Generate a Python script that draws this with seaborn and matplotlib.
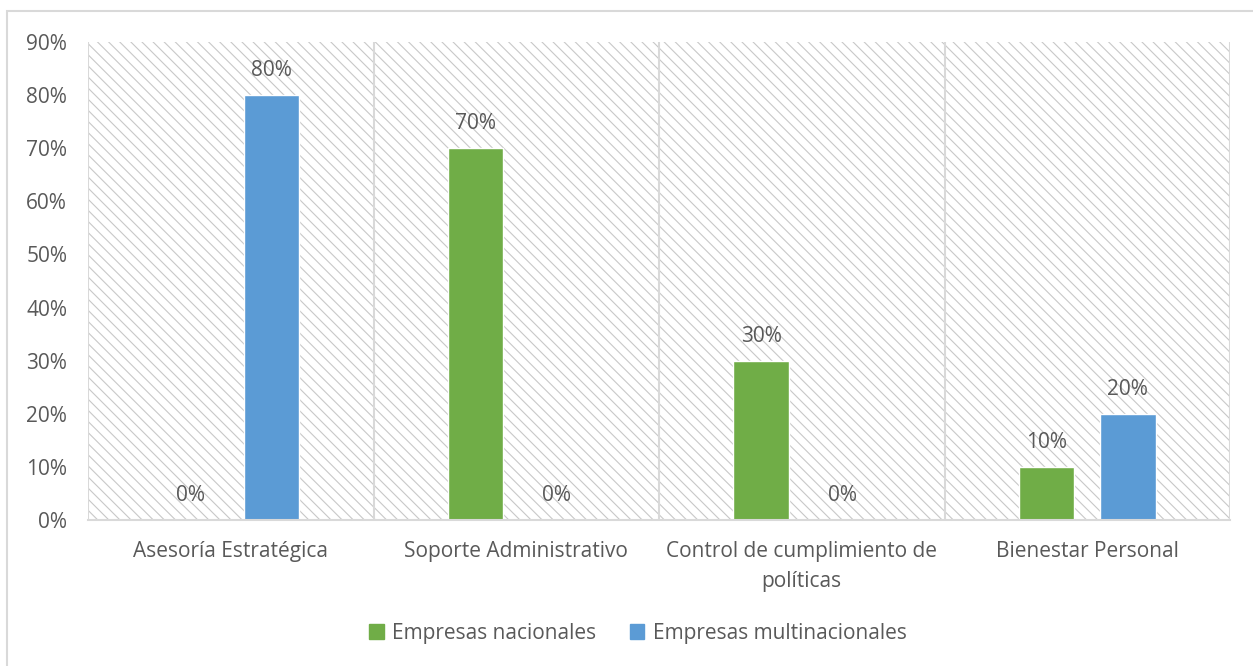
import matplotlib
matplotlib.use("Agg")
import matplotlib.pyplot as plt
from matplotlib.patches import Rectangle
from matplotlib.ticker import FuncFormatter
import seaborn as sns
import pandas as pd

# Data
categorias = ["Asesoría Estratégica", "Soporte Administrativo",
              "Control de cumplimiento de\npolíticas", "Bienestar Personal"]
series = ["Empresas nacionales", "Empresas multinacionales"]
nacionales = [0.0, 0.70, 0.30, 0.10]
multinacionales = [0.80, 0.0, 0.0, 0.20]
y_ticks = [0.0, 0.1, 0.2, 0.3, 0.4, 0.5, 0.6, 0.7, 0.8, 0.9]

df = pd.DataFrame({
    "categoria": categorias * 2,
    "serie": [series[0]] * 4 + [series[1]] * 4,
    "valor": nacionales + multinacionales,
})

sns.set_theme(style="white")
plt.rcParams["font.family"] = ["Open Sans", "DejaVu Sans"]
plt.rcParams["hatch.linewidth"] = 0.8
TEXT = "#595959"
GRID = "#d9d9d9"
HATCH = "#c8c8c8"
FS = 15
palette = {series[0]: "#70AD47", series[1]: "#5B9BD5"}

fig = plt.figure(figsize=(12.53, 6.66), dpi=100)
ax = fig.add_axes([88 / 1253, 1 - 520 / 666, (1230 - 88) / 1253, (520 - 42) / 666])

sns.barplot(data=df, x="categoria", y="valor", hue="serie", order=categorias,
            hue_order=series, palette=palette, width=0.57, gap=0.32,
            saturation=1, legend=False, ax=ax, zorder=3)

# Hatched plot background
ax.add_patch(Rectangle((0, 0), 1, 1, transform=ax.transAxes, facecolor="white",
                       edgecolor=HATCH, hatch="\\\\\\", lw=0, zorder=0))

# Category separators
for xb in [-0.5, 0.5, 1.5, 2.5, 3.5]:
    ax.axvline(xb, color=GRID, lw=1.5, zorder=1)

ax.set_xlim(-0.5, 3.5)
ax.set_ylim(0, 0.9)
ax.set_yticks(y_ticks)
ax.yaxis.set_major_formatter(FuncFormatter(lambda v, _: f"{v * 100:.0f}%"))
ax.set_xlabel("")
ax.set_ylabel("")
ax.tick_params(axis="y", length=0, pad=15, labelsize=FS, labelcolor=TEXT)
ax.tick_params(axis="x", length=0, pad=15, labelsize=FS, labelcolor=TEXT)
for lbl in ax.get_xticklabels():
    lbl.set_linespacing(1.6)
for s in ["top", "right", "left"]:
    ax.spines[s].set_visible(False)
ax.spines["bottom"].set_color(GRID)
ax.spines["bottom"].set_linewidth(1.5)
ax.spines["bottom"].set_zorder(4)

for cont in ax.containers:
    ax.bar_label(cont, labels=[f"{b.get_height() * 100:.0f}%" for b in cont],
                 padding=10, fontsize=FS, color=TEXT)

# Legend
handles = [Rectangle((0, 0), 1, 1, color=palette[s]) for s in series]
fig.legend(handles, series, loc="center", bbox_to_anchor=(638 / 1253, 1 - 633 / 666),
           ncol=2, frameon=False, fontsize=FS, labelcolor=TEXT,
           handlelength=0.7, handleheight=0.7, handletextpad=0.4,
           columnspacing=1.6)

# Chart area border
fig.add_artist(Rectangle((7 / 1253, -0.1), 1.2, 1 - 11 / 666 + 0.1,
                         transform=fig.transFigure, fill=False,
                         edgecolor=GRID, lw=1.5, clip_on=False))

fig.savefig("out.png", dpi=100)
